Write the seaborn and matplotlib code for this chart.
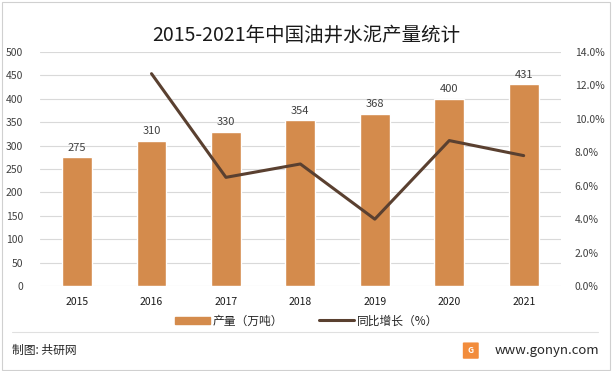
import matplotlib
matplotlib.use('Agg')
import matplotlib.pyplot as plt
import seaborn as sns
import pandas as pd
from matplotlib.patches import Rectangle, FancyBboxPatch
from matplotlib.lines import Line2D

# data
years = ['2015', '2016', '2017', '2018', '2019', '2020', '2021']
output = [275, 310, 330, 354, 368, 400, 431]
growth = [None, 12.7, 6.5, 7.3, 4.0, 8.7, 7.8]

sns.set_theme(style='white')
plt.rcParams['font.family'] = ['Noto Sans CJK SC', 'DejaVu Sans']

bar_color = '#D48B4C'
line_color = '#5A4030'

df = pd.DataFrame({'year': years, 'output': output, 'growth': growth})

fig = plt.figure(figsize=(6.13, 3.71), dpi=100)
ax = fig.add_axes([0.065, 0.229, 0.85, 0.631])

sns.barplot(data=df, x='year', y='output', color=bar_color, width=0.4,
            saturation=1, ax=ax)
ax.set_ylim(0, 500)
ax.set_yticks(range(0, 501, 50))
ax.yaxis.grid(True, color='#D9D9D9', linewidth=0.8)
ax.set_axisbelow(True)
for s in ax.spines.values():
    s.set_visible(False)
ax.set_xlabel('')
ax.set_ylabel('')
ax.tick_params(axis='y', labelsize=7.5, colors='#404040', length=0, pad=12)
ax.tick_params(axis='x', labelsize=7.5, length=0, pad=8)
for lbl in ax.get_xticklabels():
    lbl.set_fontweight('medium')
    lbl.set_color('#1a1a1a')
for i, v in enumerate(output):
    ax.text(i, v + 10, str(v), ha='center', va='bottom', fontsize=8, color='#404040')

ax2 = ax.twinx()
sns.lineplot(x=list(range(1, 7)), y=growth[1:], color=line_color, linewidth=2.2, ax=ax2)
ax2.set_ylim(0, 14)
ax2.set_yticks([0, 2, 4, 6, 8, 10, 12, 14])
ax2.set_yticklabels([f'{t:.1f}%' for t in ax2.get_yticks()])
ax2.tick_params(axis='y', labelsize=7.5, colors='#404040', length=0, pad=10)
for s in ax2.spines.values():
    s.set_visible(False)
ax2.set_xlim(-0.5, 6.5)
ax.set_xlim(-0.5, 6.5)

fig.text(0.5, 0.905, '2015-2021年中国油井水泥产量统计', ha='center', va='center',
         fontsize=14, color='#1a1a1a')

handles = [Rectangle((0, 0), 1, 1, color=bar_color),
           Line2D([0], [0], color=line_color, linewidth=2.2)]
fig.legend(handles, ['产量（万吨）', '同比增长（%）'], loc='center',
           bbox_to_anchor=(0.5, 0.135), ncol=2, frameon=False, fontsize=8.5,
           handlelength=3, handleheight=0.6, columnspacing=3, handletextpad=0.2)

# separator and footer
fig.add_artist(Line2D([0.02, 0.975], [0.105, 0.105], color='#E0E0E0', linewidth=0.8,
                      transform=fig.transFigure))
fig.text(0.02, 0.055, '制图: 共研网', fontsize=8.5, va='center', color='#262626')
fig.add_artist(FancyBboxPatch((0.757, 0.035), 0.022, 0.04, boxstyle='round,pad=0.002',
                              facecolor='#F28C3C', edgecolor='none',
                              transform=fig.transFigure))
fig.text(0.768, 0.055, 'G', fontsize=6, fontweight='bold', color='white',
         ha='center', va='center')
fig.text(0.977, 0.055, 'www.gonyn.com', fontsize=9.5, va='center', ha='right', color='#262626')

# outer frame
fig.add_artist(Rectangle((0.003, 0.004), 0.992, 0.99, fill=False, edgecolor='#D0D0D0',
                         linewidth=0.8, transform=fig.transFigure))

fig.savefig('out.png', dpi=100)
